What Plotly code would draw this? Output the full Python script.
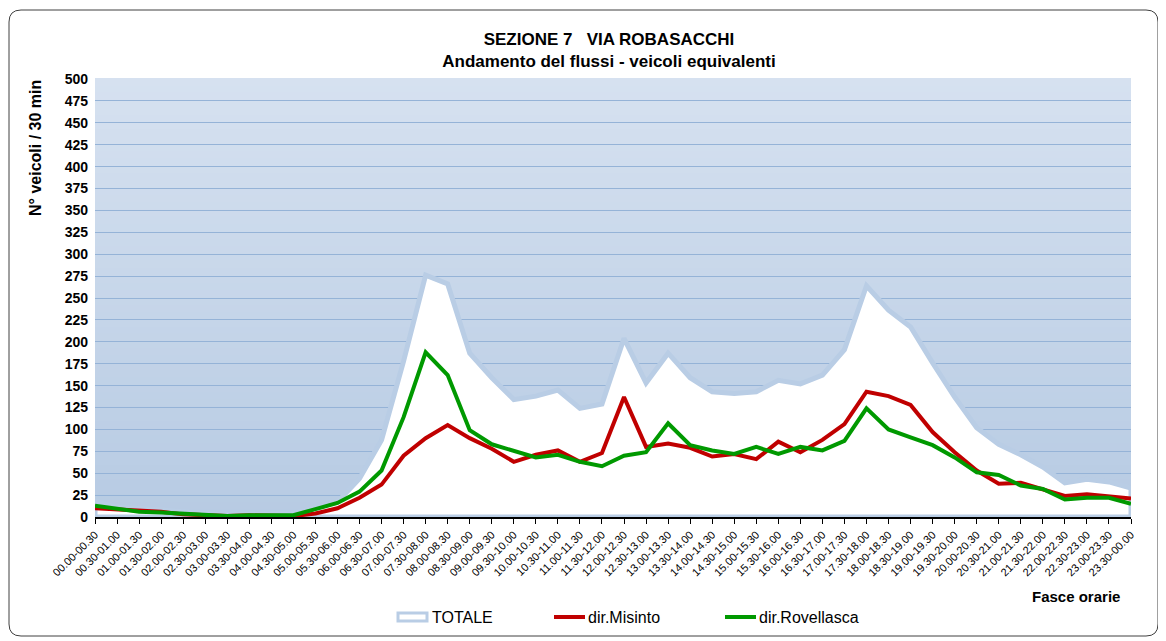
import plotly.graph_objects as go

# fasce orarie (half-hour slots)
fasce = [
    "00.00-00.30", "00.30-01.00", "01.00-01.30", "01.30-02.00", "02.00-02.30", "02.30-03.00",
    "03.00-03.30", "03.30-04.00", "04.00-04.30", "04.30-05.00", "05.00-05.30", "05.30-06.00",
    "06.00-06.30", "06.30-07.00", "07.00-07.30", "07.30-08.00", "08.00-08.30", "08.30-09.00",
    "09.00-09.30", "09.30-10.00", "10.00-10.30", "10.30-11.00", "11.00-11.30", "11.30-12.00",
    "12.00-12.30", "12.30-13.00", "13.00-13.30", "13.30-14.00", "14.00-14.30", "14.30-15.00",
    "15.00-15.30", "15.30-16.00", "16.00-16.30", "16.30-17.00", "17.00-17.30", "17.30-18.00",
    "18.00-18.30", "18.30-19.00", "19.00-19.30", "19.30-20.00", "20.00-20.30", "20.30-21.00",
    "21.00-21.30", "21.30-22.00", "22.00-22.30", "22.30-23.00", "23.00-23.30", "23.30-00.00",
]

totale = [18, 11, 10, 8, 6, 4, 2, 3, 3, 4, 10, 17,
          44, 88, 178, 276, 266, 187, 159, 134, 138, 145, 124, 129,
          204, 153, 187, 159, 143, 141, 143, 156, 152, 162, 191, 264,
          236, 217, 176, 137, 102, 83, 71, 57, 39, 43, 40, 33]

misinto = [10, 9, 8, 6, 3, 2, 1, 2, 2, 1, 4, 10,
           22, 37, 70, 90, 105, 90, 78, 63, 71, 76, 63, 73,
           137, 80, 84, 79, 69, 72, 66, 86, 74, 88, 106, 143,
           138, 128, 97, 74, 53, 38, 39, 31, 24, 26, 24, 21]

rovellasca = [13, 9, 6, 5, 4, 3, 1, 2, 2, 2, 9, 16,
              29, 53, 114, 188, 162, 99, 83, 75, 68, 71, 63, 58,
              70, 74, 107, 82, 76, 72, 80, 72, 80, 76, 87, 124,
              100, 91, 82, 68, 51, 48, 36, 32, 20, 22, 22, 15]

y_ticks = list(range(0, 501, 25))

FONT = "Arial, Liberation Sans, sans-serif"
BLUE = "#b9cde5"
RED = "#c00000"
GREEN = "#009900"

# page body adds an 8px margin, so the figure is 8px smaller than the window
W, H = 1158, 633
L, R, T, B = 87, 35, 71, 124
pw, ph = W - L - R, H - T - B


def px(x):
    return (x - L) / pw


def py(y):
    return (H - B - y) / ph


fig = go.Figure()

# TOTALE as closed area so the outline runs down the sides and along the base
fig.add_trace(go.Scatter(
    x=fasce + [fasce[-1], fasce[0], fasce[0]],
    y=totale + [0, 0, totale[0]],
    name="TOTALE", mode="lines", fill="toself", fillcolor="white",
    line=dict(color=BLUE, width=5), hoverinfo="skip",
))
fig.add_trace(go.Scatter(x=fasce, y=misinto, name="dir.Misinto", mode="lines",
                         line=dict(color=RED, width=4)))
fig.add_trace(go.Scatter(x=fasce, y=rovellasca, name="dir.Rovellasca", mode="lines",
                         line=dict(color=GREEN, width=4)))

# gradient plot background made of thin bands
shapes = []
nb = 60
top_c, bot_c = (214, 225, 240), (183, 203, 227)
for i in range(nb):
    f = i / (nb - 1)
    c = tuple(round(top_c[k] + (bot_c[k] - top_c[k]) * f) for k in range(3))
    shapes.append(dict(type="rect", xref="paper", yref="paper", layer="below",
                       x0=0, x1=1, y0=1 - (i + 1) / nb, y1=1 - i / nb + 0.002,
                       fillcolor="rgb(%d,%d,%d)" % c, line=dict(width=0)))

# rounded outer frame
x0, x1, y0, y1 = px(1), px(1150), py(628), py(2)
rx, ry = 12 / pw, 12 / ph
path = (f"M {x0+rx},{y1} L {x1-rx},{y1} Q {x1},{y1} {x1},{y1-ry} "
        f"L {x1},{y0+ry} Q {x1},{y0} {x1-rx},{y0} L {x0+rx},{y0} "
        f"Q {x0},{y0} {x0},{y0+ry} L {x0},{y1-ry} Q {x0},{y1} {x0+rx},{y1} Z")
shapes.append(dict(type="path", xref="paper", yref="paper", path=path,
                   line=dict(color="#404040", width=1), layer="below"))

# legend drawn by hand
ly = 609
shapes.append(dict(type="rect", xref="paper", yref="paper", x0=px(390), x1=px(419),
                   y0=py(ly + 4), y1=py(ly - 4), fillcolor="white",
                   line=dict(color=BLUE, width=3)))
shapes.append(dict(type="line", xref="paper", yref="paper", x0=px(546), x1=px(577),
                   y0=py(ly), y1=py(ly), line=dict(color=RED, width=4)))
shapes.append(dict(type="line", xref="paper", yref="paper", x0=px(717), x1=px(748),
                   y0=py(ly), y1=py(ly), line=dict(color=GREEN, width=4)))

annotations = [
    dict(text="<b>Fasce orarie</b>", x=px(1114), y=py(588), xanchor="right",
         font=dict(size=15, family=FONT)),
    dict(text="<b>N° veicoli / 30 min</b>", x=px(27), y=py(140), xanchor="center",
         textangle=-90, font=dict(size=16, family=FONT)),
    dict(text="TOTALE", x=px(422), y=py(ly), xanchor="left", font=dict(size=16, family=FONT)),
    dict(text="dir.Misinto", x=px(578), y=py(ly), xanchor="left", font=dict(size=16, family=FONT)),
    dict(text="dir.Rovellasca", x=px(749), y=py(ly), xanchor="left", font=dict(size=16, family=FONT)),
]
for a in annotations:
    a.update(xref="paper", yref="paper", yanchor="middle", showarrow=False)

fig.update_layout(
    width=W, height=H,
    margin=dict(l=L, r=R, t=T, b=B),
    paper_bgcolor="white", plot_bgcolor="rgba(0,0,0,0)",
    font=dict(family=FONT, color="black"),
    shapes=shapes,
    annotations=annotations,
    showlegend=False,
    title=dict(text="<b>SEZIONE 7   VIA ROBASACCHI<br>Andamento del flussi - veicoli equivalenti</b>",
               xref="container", x=601 / W, xanchor="center",
               yref="container", y=1 - 37 / H, yanchor="middle",
               font=dict(size=17, family=FONT)),
)

fig.update_xaxes(
    type="category", categoryorder="array", categoryarray=fasce,
    range=[0, len(fasce) - 1], tickangle=-45, tickfont=dict(size=11, family=FONT),
    showgrid=False, showline=True, linecolor="black", linewidth=2,
    ticks="outside", ticklen=5, tickcolor="black", zeroline=False,
)
fig.update_yaxes(
    range=[0, 500], tickvals=y_ticks, ticktext=["<b>%d</b>" % v for v in y_ticks],
    tickfont=dict(size=14, family=FONT),
    showgrid=True, gridcolor="#95b3d7", gridwidth=1, zeroline=False,
    showline=False, ticks="", ticklabelstandoff=6,
)

fig.write_html("out.html")
